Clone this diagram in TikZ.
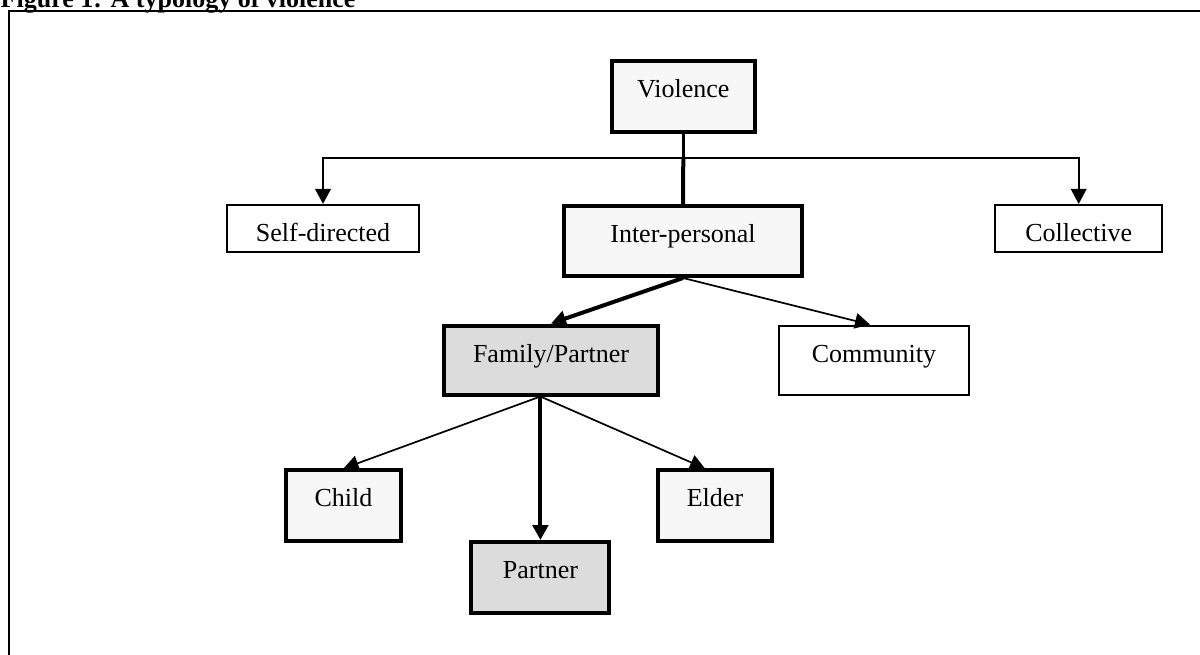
\documentclass[tikz,border=0pt]{standalone}
\usepackage{fontspec}
\setmainfont{Liberation Serif}
\usetikzlibrary{arrows.meta,calc}

\definecolor{palegray}{HTML}{F7F7F7}
\definecolor{midgray}{HTML}{DCDCDC}

\begin{document}
\begin{tikzpicture}[x=1pt,y=-1pt,
  labelfont/.style={font=\fontsize{26}{30}\selectfont},
  box/.style={draw, labelfont, inner xsep=0pt, inner ysep=0pt,
    text height=36.5pt, anchor=center},
  heavybox/.style={box, line width=4pt},
  lightbox/.style={box, line width=2pt, fill=white},
  tip/.style={-{Triangle[length=15pt,width=15.5pt]}},
  heavyarrow/.style={tip, line width=4pt},
  lightarrow/.style={tip, line width=1.7pt},
]
\useasboundingbox (0,0) rectangle (1200,654);

% caption and frame
\node[font=\bfseries\fontsize{26}{30}\selectfont, anchor=base west, inner sep=0pt]
  (title) at (0.5,7.5) {Figure 1: A typology of violence};
\draw[line width=2pt] (9,660) -- (9,11) -- (1205,11);

% boxes
\node[heavybox, fill=palegray, minimum width=143.3pt, text depth=34.2pt]
  (violence) at (683.3,96.3) {Violence};
\node[lightbox, minimum width=192pt, text depth=11pt]
  (selfdir) at (323,228.7) {Self-directed};
\node[lightbox, minimum width=167.5pt, text depth=11pt]
  (collective) at (1078.7,228.7) {Collective};
\node[heavybox, fill=palegray, minimum width=238pt, text depth=33.5pt]
  (interp) at (683,241) {Inter-personal};
\node[heavybox, fill=midgray, minimum width=214pt, text depth=32.5pt]
  (family) at (551,360) {Family/Partner};
\node[lightbox, minimum width=190pt, text depth=33pt]
  (community) at (874,360.3) {Community};
\node[heavybox, fill=palegray, minimum width=115pt, text depth=34pt]
  (child) at (343.5,505.7) {Child};
\node[heavybox, fill=midgray, minimum width=138pt, text depth=34.5pt]
  (partner) at (540.4,577.5) {Partner};
\node[heavybox, fill=palegray, minimum width=114pt, text depth=34pt]
  (elder) at (715,505.7) {Elder};

% branching bar below the root
\path (violence.south) ++(0,24.5) coordinate (hub);
\draw[line width=2.5pt] (violence.south) -- (hub);
\draw[line width=2pt, tip] (hub) -| (selfdir.north);
\draw[line width=2pt, tip] (hub) -| (collective.north);
\draw[line width=4pt] (hub) -- (interp.north);

% second and third levels
\draw[heavyarrow] (interp.south) -- (family.north);
\draw[lightarrow] (interp.south) -- ([xshift=-4pt]community.north);

\coordinate (fb) at (family.south -| partner.north);
\draw[lightarrow] (fb) -- (child.north);
\draw[heavyarrow] (fb) -- (partner.north);
\draw[lightarrow] (fb) -- ([xshift=-10pt]elder.north);
\end{tikzpicture}
\end{document}
